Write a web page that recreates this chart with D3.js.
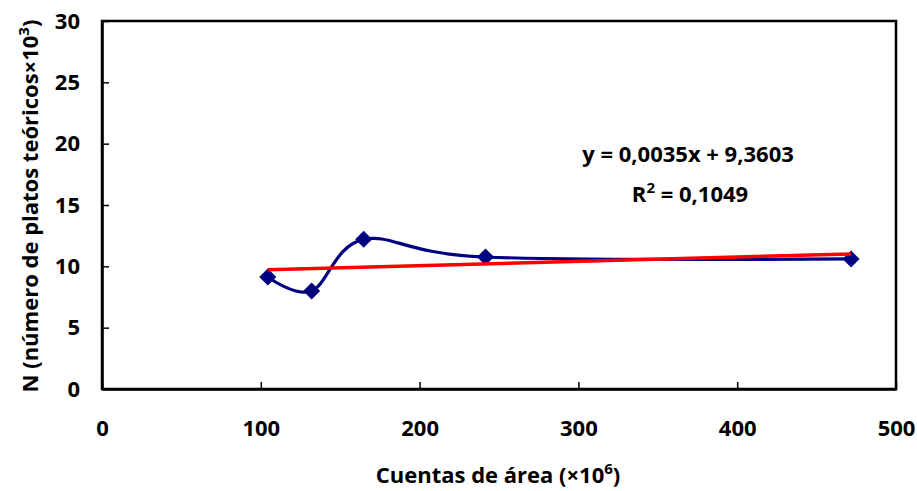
<!DOCTYPE html>
<html>
<head>
<meta charset="utf-8">
<script src="https://cdn.jsdelivr.net/npm/d3@7/dist/d3.min.js"></script>
<style>
  html, body { margin: 0; padding: 0; background: #fff; }
  svg text { font-family: "Open Sans", Lato, "DejaVu Sans", sans-serif; font-weight: 700; fill: #000; }
</style>
</head>
<body>
<svg id="chart" width="917" height="491"></svg>
<script>
// Area counts (×10^6) and theoretical plates N (×10^3)
const areaCounts = [104.4, 132.0, 164.8, 241.5, 471.7];
const plates = [9.13, 7.99, 12.2, 10.76, 10.6];

// Linear trend fitted to the series
const slope = 0.0035;
const intercept = 9.3603;
const rSquared = "0,1049";

const xTicks = [0, 100, 200, 300, 400, 500];
const yTicks = [0, 5, 10, 15, 20, 25, 30];

const W = 917, H = 491;
const margin = { left: 102, right: 21, top: 21, bottom: 102 };
const FS = 22, SUP = 15;
const svg = d3.select("#chart");

const x = d3.scaleLinear().domain([0, 500]).range([margin.left, W - margin.right]);
const y = d3.scaleLinear().domain([0, 30]).range([H - margin.bottom, margin.top]);

// Plot frame
svg.append("rect")
  .attr("x", x(0)).attr("y", y(30))
  .attr("width", x(500) - x(0)).attr("height", y(0) - y(30))
  .attr("fill", "none").attr("stroke", "#000").attr("stroke-width", 2.5);

// Axes with inward ticks
const xAxis = svg.append("g")
  .attr("transform", `translate(0,${y(0)})`)
  .call(d3.axisBottom(x).tickValues(xTicks).tickSizeInner(-7).tickSizeOuter(0).tickPadding(31));
const yAxis = svg.append("g")
  .attr("transform", `translate(${x(0)},0)`)
  .call(d3.axisLeft(y).tickValues(yTicks).tickSizeInner(-7).tickSizeOuter(0).tickPadding(22));

[xAxis, yAxis].forEach(g => {
  g.select(".domain").attr("stroke", "#000").attr("stroke-width", 2.5);
  g.selectAll(".tick line").attr("stroke", "#000").attr("stroke-width", 1.5);
  g.selectAll(".tick text").attr("font-size", FS).attr("font-family", null).attr("font-weight", null);
});

// Data series: smoothed line with diamond markers
const pts = areaCounts.map((a, i) => [a, plates[i]]);
svg.append("path")
  .datum(pts)
  .attr("fill", "none")
  .attr("stroke", "#000080")
  .attr("stroke-width", 3.2)
  .attr("d", d3.line().x(d => x(d[0])).y(d => y(d[1])).curve(d3.curveCatmullRom.alpha(0)));

svg.append("g").selectAll("path")
  .data(pts)
  .join("path")
  .attr("transform", d => `translate(${x(d[0])},${y(d[1])}) rotate(45)`)
  .attr("d", d3.symbol(d3.symbolSquare, 145))
  .attr("fill", "#000080");

// Trend line
const xMin = d3.min(areaCounts), xMax = d3.max(areaCounts);
svg.append("line")
  .attr("x1", x(xMin)).attr("y1", y(slope * xMin + intercept))
  .attr("x2", x(xMax)).attr("y2", y(slope * xMax + intercept))
  .attr("stroke", "#ff0000").attr("stroke-width", 3.5);

// Equation and R²
svg.append("text")
  .attr("x", 688).attr("y", 162).attr("text-anchor", "middle").attr("font-size", FS)
  .text("y = 0,0035x + 9,3603");
const r2 = svg.append("text")
  .attr("x", 690).attr("y", 202).attr("text-anchor", "middle").attr("font-size", FS);
r2.append("tspan").text("R");
r2.append("tspan").attr("font-size", SUP).attr("dy", -9).text("2");
r2.append("tspan").attr("dy", 9).text(" = " + rSquared);

// Axis titles
const xt = svg.append("text")
  .attr("x", 498).attr("y", 483).attr("text-anchor", "middle").attr("font-size", FS);
xt.append("tspan").text("Cuentas de área (×10");
xt.append("tspan").attr("font-size", SUP).attr("dy", -9).text("6");
xt.append("tspan").attr("dy", 9).text(")");

const yt = svg.append("text")
  .attr("transform", "translate(38,206) rotate(-90)")
  .attr("text-anchor", "middle").attr("font-size", FS);
yt.append("tspan").text("N (número de platos teóricos×10");
yt.append("tspan").attr("font-size", SUP).attr("dy", -9).text("3");
yt.append("tspan").attr("dy", 9).text(")");
</script>
</body>
</html>
